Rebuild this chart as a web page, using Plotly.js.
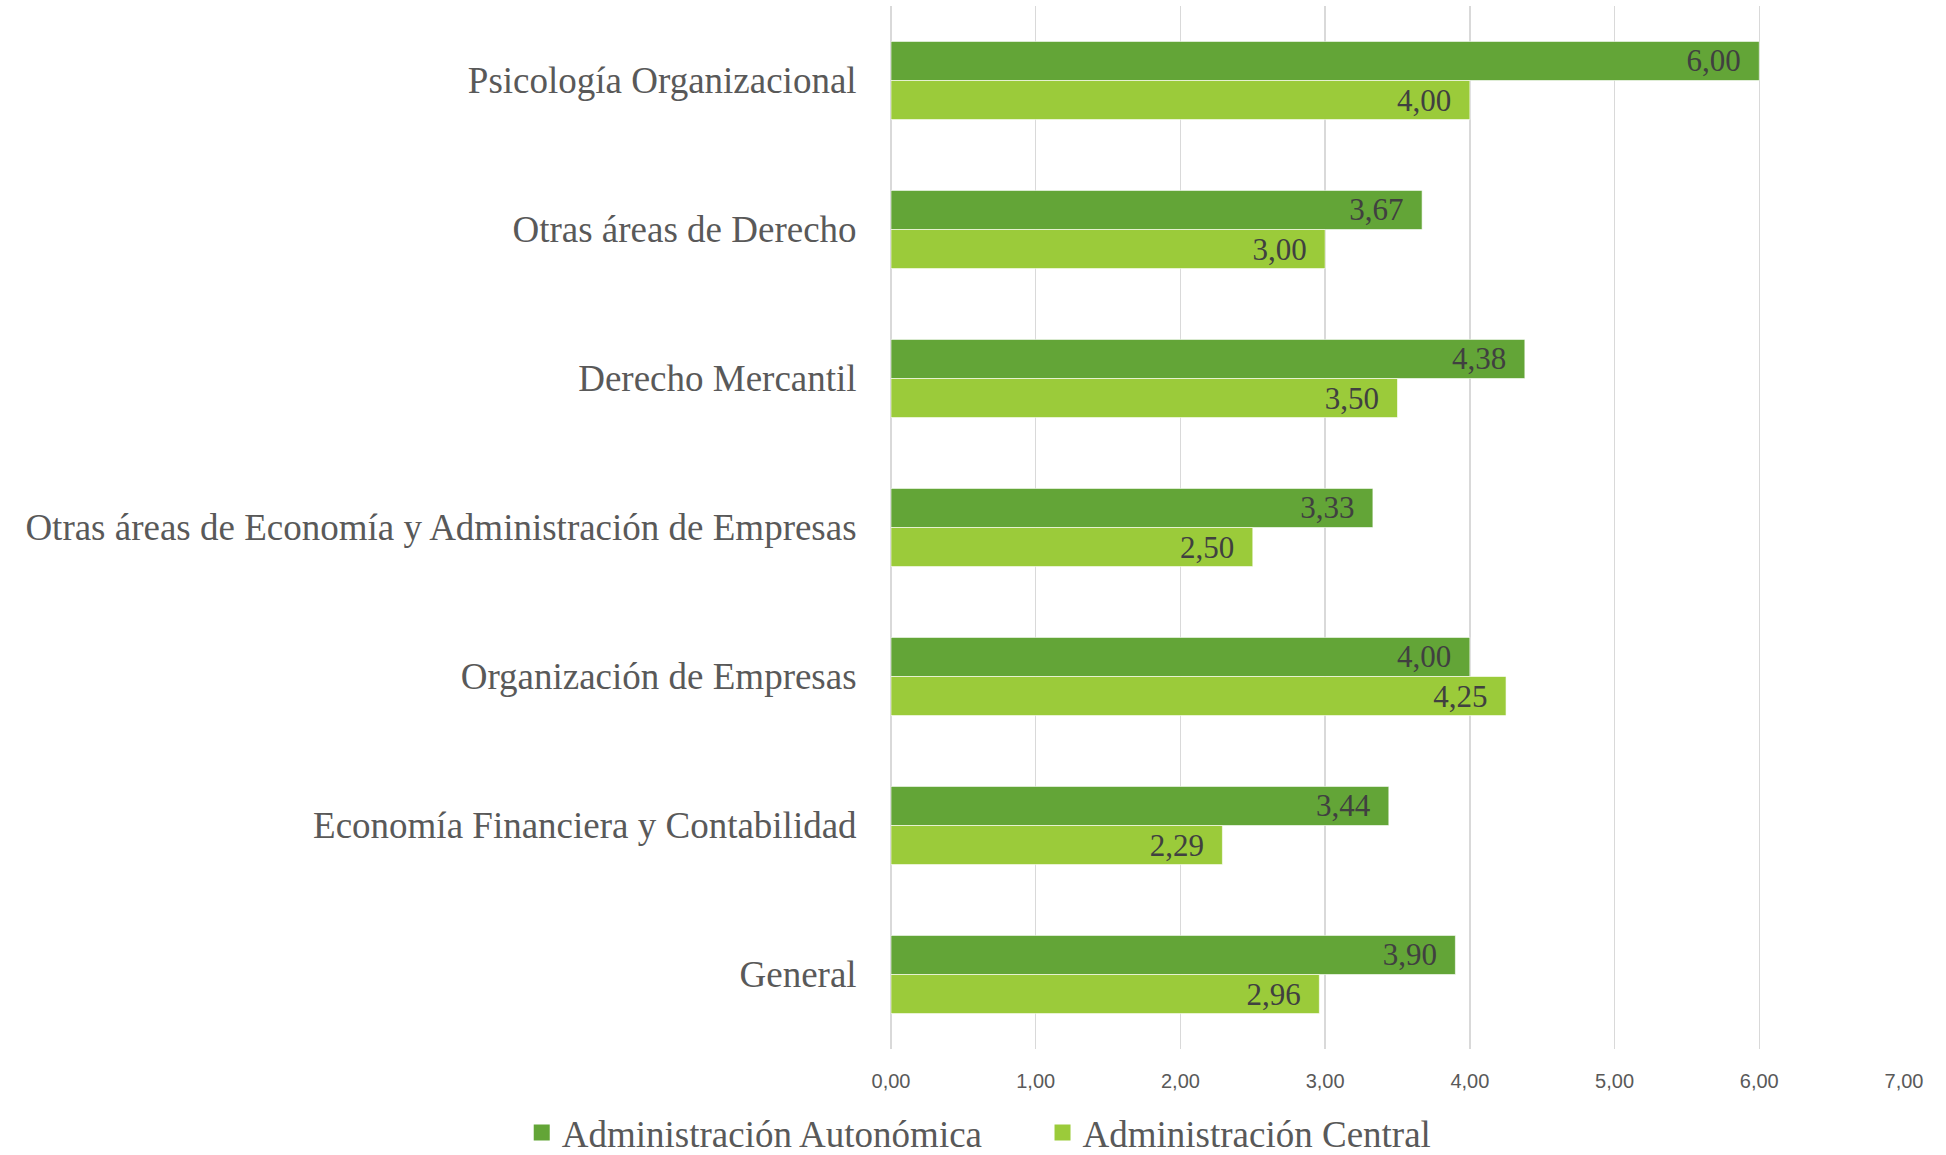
<!DOCTYPE html>
<html>
<head>
<meta charset="utf-8">
<script src="https://cdn.plot.ly/plotly-3.0.1.min.js"></script>
<style>html,body{margin:0;padding:0;background:#fff;}#chart{width:1946px;height:1155px;}</style>
</head>
<body>
<div id="chart"></div>
<script>
const categories = [
  "Psicología Organizacional",
  "Otras áreas de Derecho",
  "Derecho Mercantil",
  "Otras áreas de Economía y Administración de Empresas",
  "Organización de Empresas",
  "Economía Financiera y Contabilidad",
  "General"
];
const seriesNames = ["Administración Autonómica", "Administración Central"];
const seriesColors = ["#63A537", "#9BCB3A"];
const autonomica = [6.00, 3.67, 4.38, 3.33, 4.00, 3.44, 3.90];
const central = [4.00, 3.00, 3.50, 2.50, 4.25, 2.29, 2.96];
const xTicks = [0, 1, 2, 3, 4, 5, 6, 7];

const serif = "Liberation Serif, Times New Roman, serif";
const common = {
  type: "bar",
  orientation: "h",
  y: categories,
  texttemplate: "%{x:.2f}\u00a0\u00a0",
  textposition: "inside",
  insidetextanchor: "end",
  textangle: 0,
  constraintext: "none",
  textfont: {family: serif, size: 31, color: "#404040"},
  cliponaxis: false,
  hoverinfo: "skip",
  showlegend: false
};
const data = [
  Object.assign({}, common, {
    name: seriesNames[0], x: autonomica,
    marker: {color: seriesColors[0], line: {color: "rgba(255,255,255,0.6)", width: 1}}
  }),
  Object.assign({}, common, {
    name: seriesNames[1], x: central,
    marker: {color: seriesColors[1], line: {color: "rgba(255,255,255,0.6)", width: 1}}
  })
];
// legend-only entries (square swatches); extra spacing after the first name
const legendPad = ["\u00a0\u00a0\u00a0\u00a0\u00a0\u00a0", ""];
seriesNames.forEach(function (nm, i) {
  data.push({
    type: "scatter", mode: "markers", name: nm + legendPad[i],
    x: [null], y: [null],
    marker: {symbol: "square", size: 16, color: seriesColors[i]},
    hoverinfo: "skip", showlegend: true
  });
});
const layout = {
  width: 1946, height: 1155,
  paper_bgcolor: "#fff", plot_bgcolor: "#fff",
  margin: {l: 891, r: 42, t: 6, b: 106, pad: 0},
  separators: ",.",
  barmode: "group",
  bargap: 0.475,
  bargroupgap: 0,
  showlegend: true,
  xaxis: {
    range: [0, 7], tickvals: xTicks, tickformat: ".2f",
    showgrid: true, gridcolor: "#d9d9d9", gridwidth: 1.3,
    zeroline: true, zerolinecolor: "#d9d9d9", zerolinewidth: 1.3,
    showline: false,
    ticks: "outside", ticklen: 14, tickcolor: "rgba(0,0,0,0)",
    tickfont: {family: "Liberation Sans Narrow, Arial Narrow, sans-serif", size: 20, color: "#595959"},
    fixedrange: true
  },
  yaxis: {
    type: "category", categoryorder: "array", categoryarray: categories,
    autorange: "reversed",
    showgrid: false, zeroline: false, showline: false,
    ticks: "outside", ticklen: 26, tickcolor: "rgba(0,0,0,0)",
    tickfont: {family: serif, size: 37, color: "#595959"},
    fixedrange: true
  },
  legend: {
    orientation: "h", xref: "container", yref: "container",
    x: 0.5032, xanchor: "center", y: 0.019, yanchor: "middle",
    bgcolor: "rgba(0,0,0,0)",
    font: {family: serif, size: 37, color: "#595959"},
    traceorder: "normal", itemclick: false
  }
};
Plotly.newPlot("chart", data, layout, {displayModeBar: false, staticPlot: true});
</script>
</body>
</html>
